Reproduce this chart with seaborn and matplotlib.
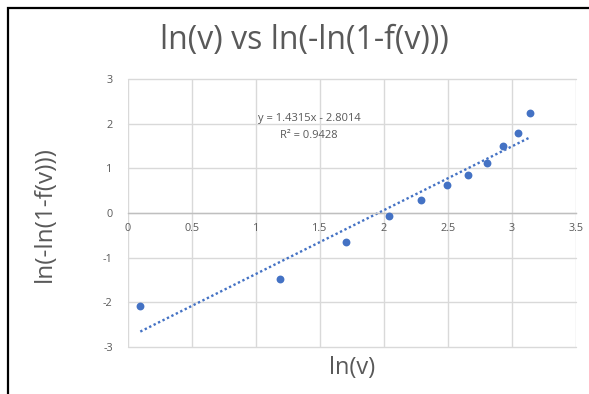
import numpy as np
import pandas as pd
import matplotlib
matplotlib.use("Agg")
import matplotlib.pyplot as plt
import seaborn as sns
from matplotlib.patches import Rectangle

ln_v = [0.096, 1.19, 1.703, 2.039, 2.289, 2.492, 2.659, 2.807, 2.93, 3.044, 3.14]
ln_ln = [-2.09, -1.486, -0.657, -0.076, 0.298, 0.618, 0.842, 1.13, 1.506, 1.80, 2.236]
x_ticks = [0, 0.5, 1, 1.5, 2, 2.5, 3, 3.5]
x_tick_labels = ["0", "0.5", "1", "1.5", "2", "2.5", "3", "3.5"]
y_ticks = [-3, -2, -1, 0, 1, 2, 3]
y_tick_labels = ["-3", "-2", "-1", "0", "1", "2", "3"]
title = "ln(v) vs ln(-ln(1-f(v)))"
x_label = "ln(v)"
y_label = "ln(-ln(1-f(v)))"
eq_text = "y = 1.4315x - 2.8014"
r2_text = "R² = 0.9428"

df = pd.DataFrame({"x": ln_v, "y": ln_ln})

sns.set_style("white")
plt.rcParams["font.family"] = ["Open Sans", "DejaVu Sans"]

blue = "#4472C4"
grey_text = "#595959"
grid_c = "#d9d9d9"

fig = plt.figure(figsize=(5.89, 3.94), dpi=100)
ax = fig.add_axes([128 / 589, 1 - 347 / 394, 448 / 589, 268 / 394])

sns.regplot(data=df, x="x", y="y", ax=ax, scatter=False, ci=None, truncate=True,
            line_kws=dict(color=blue, lw=1.7, linestyle=(0, (1, 1.1))))
sns.scatterplot(data=df, x="x", y="y", ax=ax, color=blue, s=32, edgecolor=blue,
                linewidth=0, zorder=3)

ax.set_xlim(0, 3.5)
ax.set_ylim(-3, 3)
ax.set_xticks(x_ticks)
ax.set_xticklabels(x_tick_labels)
ax.set_yticks(y_ticks)
ax.set_yticklabels(y_tick_labels)
ax.grid(True, color=grid_c, lw=1)
ax.set_axisbelow(True)
for g in ax.get_xgridlines() + ax.get_ygridlines():
    g.set_clip_on(False)
for s in ["top", "right", "left"]:
    ax.spines[s].set_visible(False)
ax.spines["bottom"].set_position(("data", 0))
ax.spines["bottom"].set_color("#bfbfbf")
ax.spines["bottom"].set_linewidth(1)
ax.tick_params(axis="both", length=0, labelsize=7.8, labelcolor=grey_text)
ax.tick_params(axis="x", pad=7)
ax.tick_params(axis="y", pad=11)
ax.set_xlabel("")
ax.set_ylabel("")

fig.text(304 / 589, 1 - 40 / 394, title, ha="center", va="center", fontsize=23, color=grey_text)
fig.text(352 / 589, 1 - 368 / 394, x_label, ha="center", va="center", fontsize=17, color=grey_text)
fig.text(45 / 589, 1 - 214 / 394, y_label, ha="center", va="center", fontsize=17.5,
         color=grey_text, rotation=90)
fig.text(309 / 589, 1 - 119 / 394, eq_text, ha="center", va="center", fontsize=8, color=grey_text)
fig.text(309 / 589, 1 - 136 / 394, r2_text, ha="center", va="center", fontsize=8, color=grey_text)

fig.patches.append(Rectangle((8 / 589, -0.2), 1.5, 1.2 - 8 / 394, transform=fig.transFigure,
                             fill=False, edgecolor="black", lw=1.6))

fig.savefig("out.png", dpi=100)
